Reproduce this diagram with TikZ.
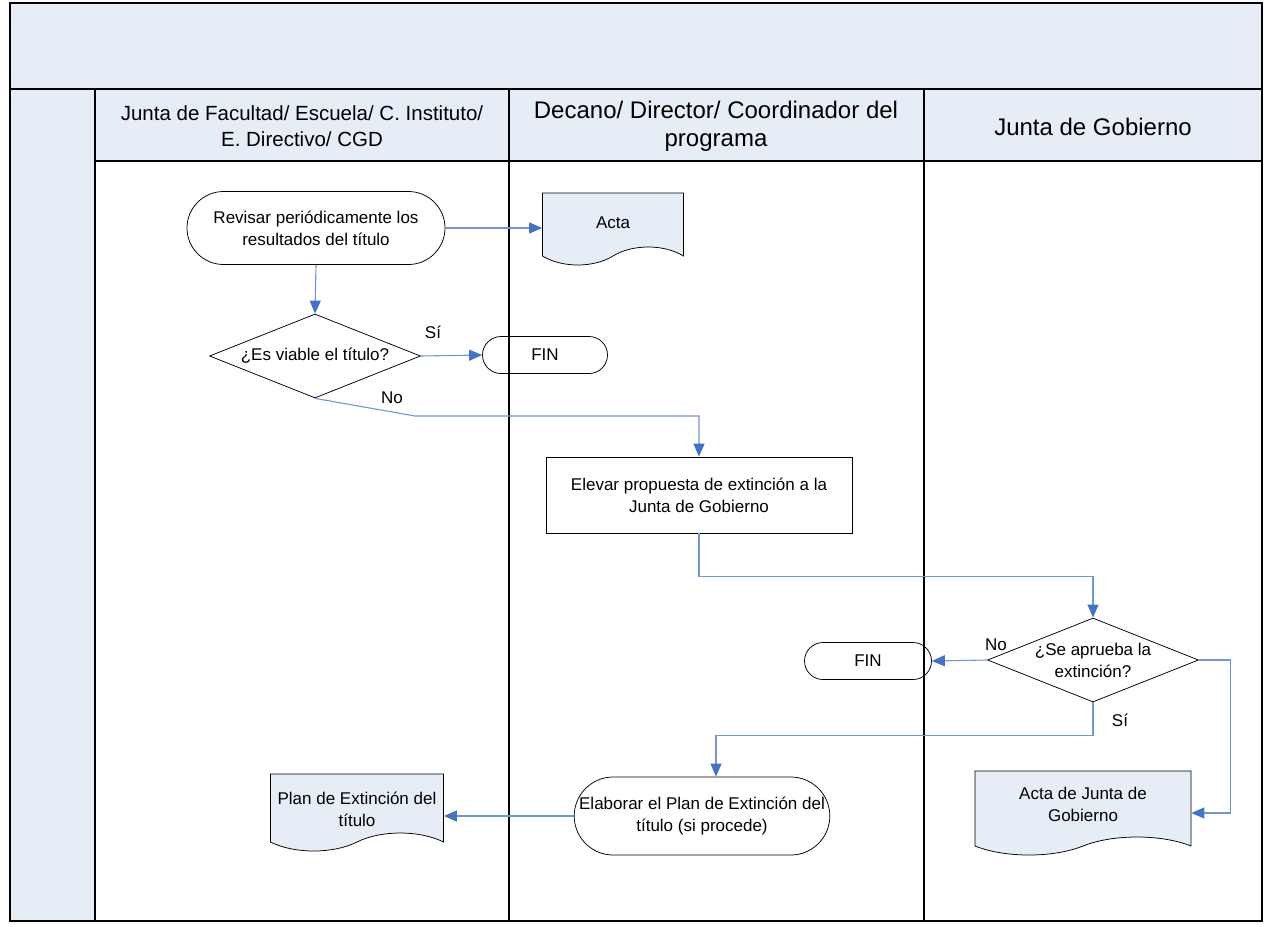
\documentclass[tikz,border=0pt]{standalone}
\usepackage{fontspec}
\setmainfont{Liberation Sans}
\usetikzlibrary{shapes.geometric,shapes.misc,shapes.symbols,arrows.meta,calc}

\definecolor{lanefill}{RGB}{231,237,247}
\definecolor{flowline}{RGB}{112,150,214}
\definecolor{flowtip}{RGB}{68,114,196}
\newcommand\flowfont{\fontsize{17}{22}\selectfont}
\newcommand\hdrfont{\fontsize{24}{28}\selectfont}
\newcommand\hdrsmall{\fontsize{20.5}{26}\selectfont}

\tikzset{every picture/.style={line width=0.75pt}}
\tikzset{
	lane/.style={draw, line width=1.5pt},
	term/.style={draw, rounded rectangle, align=center, font=\flowfont, inner sep=0pt},
	proc/.style={draw, rectangle, align=center, font=\flowfont, inner sep=0pt},
	decision/.style={draw, diamond, aspect=2.5, align=center, font=\flowfont, inner sep=0pt, minimum width=211, minimum height=84},
	doc/.style={draw, fill=lanefill, tape, tape bend top=none, tape bend bottom=in and out, tape bend height=18pt, align=center, font=\flowfont, inner sep=0pt},
	flow/.style={draw=flowline, line width=1.1pt, -{Triangle[length=13pt,width=11pt,color=flowtip]}},
	lbl/.style={font=\flowfont}}

\begin{document}
\begin{tikzpicture}[x=1pt,y=1pt,yscale=-1,xscale=1]
	\useasboundingbox (0,0) rectangle (1265,926);

	%Shape: Rectangle top band
	\draw [lane, fill=lanefill] (10,3) rectangle (1262,89) ;
	%Shape: Rectangle left column
	\draw [lane, fill=lanefill] (10,89) rectangle (95,921) ;
	%Shape: Rectangle headers
	\draw [lane, fill=lanefill] (95,89) rectangle (509,161) ;
	\draw [lane, fill=lanefill] (509,89) rectangle (924,161) ;
	\draw [lane, fill=lanefill] (924,89) rectangle (1262,161) ;
	%Shape: Rectangle lanes
	\draw [lane] (95,161) rectangle (509,921) ;
	\draw [lane] (509,161) rectangle (924,921) ;
	\draw [lane] (924,161) rectangle (1262,921) ;

	% Text Node
	\node [font=\hdrsmall, align=center] (hdrjunta) at (302,126) {Junta de Facultad/ Escuela/ C. Instituto/\\E. Directivo/ CGD};
	% Text Node
	\node [font=\hdrfont, align=center] (hdrdecano) at (716,126) {Decano/ Director/ Coordinador del\\programa};
	% Text Node
	\node [font=\hdrfont] (hdrgobierno) at (1093,127) {Junta de Gobierno};

	%Flow shapes
	\node [term, minimum width=258, minimum height=73] (revisar) at (316,228) {Revisar periódicamente los\\resultados del título};
	\node [doc, minimum width=141, minimum height=72] (acta) at (613,220) {\rule{0pt}{18pt}Acta};
	\node [decision] (viable) at (315,356) {¿Es viable el título?};
	\node [term, minimum width=125, minimum height=37] (fina) at (545,355) {FIN};
	\node [proc, minimum width=306, minimum height=76] (elevar) at (699,495) {Elevar propuesta de extinción a la\\Junta de Gobierno};
	\node [doc, minimum width=216, minimum height=84] (actajg) at (1083,804) {Acta de Junta de\\Gobierno};
	\node [decision] (aprueba) at (1093,660) {¿Se aprueba la\\extinción?};
	\node [term, minimum width=127, minimum height=37] (finb) at (868,661) {FIN};
	\node [term, minimum width=248, minimum height=78] (elaborar) at (702,816) {Elaborar el Plan de Extinción del\\título (si procede)};
	\node [doc, minimum width=173, minimum height=77] (plan) at (357,803.5) {\rule{0pt}{24pt}Plan de Extinción del\\título};

	%Bend points
	\coordinate (nobend) at (415,416);

	%Straight Lines
	\draw [flow] (revisar.east) -- (revisar.east -| acta.west) ;
	\draw [flow] (revisar.south) -- (viable.north) ;
	\draw [flow] (viable.east) -- (fina.west) ;
	\draw [flow] (viable.south) -- (nobend) -| (elevar.north) ;
	\draw [flow] (elevar.south) -- ++(0,43) -| (aprueba.north) ;
	\draw [flow] (aprueba.west) -- (finb.east) ;
	\draw [flow] (aprueba.south) -- ++(0,33) -| ($(elaborar.north)+(14,0)$) ;
	\draw [flow] (aprueba.east) -- ++(32,0) |- ($(actajg.east)+(0,9)$) ;
	\draw [flow] (elaborar.west) -- (elaborar.west -| plan.east) ;

	% Text Node
	\node [lbl] (siA) at (433,332) {Sí};
	% Text Node
	\node [lbl] (noA) at (392,398) {No};
	% Text Node
	\node [lbl] (noB) at (996,645) {No};
	% Text Node
	\node [lbl] (siB) at (1120,720) {Sí};

\end{tikzpicture}
\end{document}
